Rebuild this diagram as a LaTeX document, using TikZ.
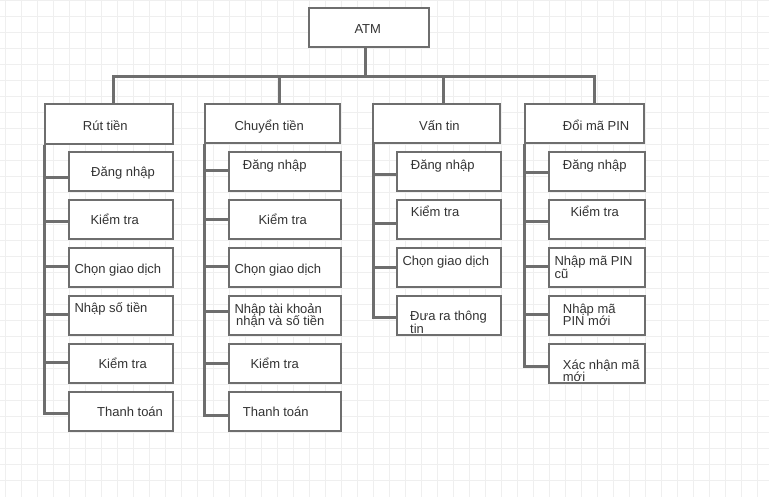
\documentclass[tikz,border=0pt]{standalone}
\usepackage{fontspec}
\setmainfont{Liberation Sans}
\definecolor{edge}{HTML}{6E6E6E}
\definecolor{ink}{HTML}{333333}
\definecolor{gridc}{HTML}{EFEFEF}
\begin{document}
\begin{tikzpicture}[x=1pt,y=-1pt,
  box/.style={draw=edge,line width=2pt,fill=white,rectangle,inner sep=0pt,minimum height=39pt},
  conn/.style={draw=edge,line width=3pt},
  lbl/.style={inner sep=0pt,anchor=base west,text=ink,font=\fontsize{13pt}{13.4pt}\selectfont},
  gridline/.style={draw=gridc,line width=1pt}]
\useasboundingbox[fill=white] (0,0) rectangle (769,503);
% grid
\foreach \k in {0,...,47} \draw[gridline] (5.33+16*\k,0) -- (5.33+16*\k,497);
\foreach \k in {0,...,30} \draw[gridline] (0,0.3+16*\k) -- (769,0.3+16*\k);

% top level
\node[box,minimum width=120pt] (atm) at (369,27.5) {};
\node[box,minimum width=128pt,minimum height=40pt] (rut) at (109,124) {};
\node[box,minimum width=135pt] (chuyen) at (272.5,123.5) {};
\node[box,minimum width=127.3pt] (van) at (436.3,123.5) {};
\node[box,minimum width=119.3pt] (doi) at (584.7,123.5) {};

% column 1
\foreach \n/\y in {1/171.5,2/219.5,3/267.5,4/315.5,5/363.5,6/411.8}
  \node[box,minimum width=104pt] (r\n) at (121,\y) {};
% column 2
\foreach \n/\y in {1/171.5,2/219.5,3/267.5,4/315.5,5/363.5,6/411.8}
  \node[box,minimum width=112pt] (c\n) at (285,\y) {};
% column 3
\foreach \n/\y in {1/171.5,2/219.5,3/267.8,4/315.5}
  \node[box,minimum width=104pt] (v\n) at (448.7,\y) {};
% column 4
\foreach \n/\y in {1/171.5,2/219.5,3/267.8,4/315.5,5/363.3}
  \node[box,minimum width=96pt] (d\n) at (597,\y) {};

% connectors from ATM
\coordinate (bus) at (365.7,77);
\draw[conn] ([xshift=-3.3pt]atm.south) -- ([xshift=-3.3pt]atm.south |- bus);
\draw[conn] ([xshift=4pt]rut.north) -- ([xshift=4pt]rut.north |- bus)
  -- ([xshift=9.6pt]doi.north |- bus) -- ([xshift=9.6pt]doi.north);
\draw[conn] ([xshift=6.8pt]chuyen.north) -- ([xshift=6.8pt]chuyen.north |- bus);
\draw[conn] ([xshift=7pt]van.north) -- ([xshift=7pt]van.north |- bus);

% spines
\coordinate (s1) at ([xshift=0.7pt]rut.south west);
\coordinate (s2) at ([xshift=0.7pt]chuyen.south west);
\coordinate (s3) at ([xshift=1.6pt]van.south west);
\coordinate (s4) at ([xshift=0.7pt]doi.south west);
\draw[conn] (s1) |- ([yshift=-1.2pt]r6.west);
\draw[conn] (s2) |- ([yshift=-3.2pt]c6.west);
\draw[conn] (s3) |- ([yshift=-2.2pt]v4.west);
\draw[conn] (s4) |- ([yshift=-2.7pt]d5.west);
\foreach \n/\d in {1/-5.8,2/-2.2,3/1.2,4/0.8,5/1.5}
  \draw[conn] ([yshift=\d pt]r\n.west) -- ([yshift=\d pt]r\n.west -| s1);
\foreach \n/\d in {1/1.2,2/0,3/1.2,4/3.8,5/0}
  \draw[conn] ([yshift=\d pt]c\n.west) -- ([yshift=\d pt]c\n.west -| s2);
\foreach \n/\d in {1/-2.5,2/-3.8,3/0}
  \draw[conn] ([yshift=\d pt]v\n.west) -- ([yshift=\d pt]v\n.west -| s3);
\foreach \n/\d in {1/-0.5,2/-1.5,3/1,4/1.5}
  \draw[conn] ([yshift=\d pt]d\n.west) -- ([yshift=\d pt]d\n.west -| s4);

% labels
\node[lbl] (atmt) at (354.3,33.7) {ATM};
\node[lbl] (rutt) at (82.7,130) {Rút tiền};
\node[lbl] (chuyent) at (234.3,130) {Chuyển tiền};
\node[lbl] (vant) at (419,130) {Vấn tin};
\node[lbl] (doit) at (562.7,130) {Đổi mã PIN};

\node[lbl] (r1t) at (91,176.7) {Đăng nhập};
\node[lbl] (r2t) at (90.3,224.7) {Kiểm tra};
\node[lbl] (r3t) at (74.3,273) {Chọn giao dịch};
\node[lbl] (r4t) at (74.3,312.3) {Nhập số tiền};
\node[lbl] (r5t) at (98.3,368.7) {Kiểm tra};
\node[lbl] (r6t) at (97,416.7) {Thanh toán};

\node[lbl] (c1t) at (242.7,169) {Đăng nhập};
\node[lbl] (c2t) at (258.3,224.7) {Kiểm tra};
\node[lbl] (c3t) at (234.3,273) {Chọn giao dịch};
\node[lbl] (c4t) at (234.3,313.3) {Nhập tài khoản};
\node[lbl] (c4u) at (236,325.7) {nhận và số tiền};
\node[lbl] (c5t) at (250.3,368.7) {Kiểm tra};
\node[lbl] (c6t) at (242.7,416.7) {Thanh toán};

\node[lbl] (v1t) at (410.7,169) {Đăng nhập};
\node[lbl] (v2t) at (410.7,216.7) {Kiểm tra};
\node[lbl] (v3t) at (402.3,265) {Chọn giao dịch};
\node[lbl] (v4t) at (410,320.7) {Đưa ra thông};
\node[lbl] (v4u) at (410,333.3) {tin};

\node[lbl] (d1t) at (562.7,169) {Đăng nhập};
\node[lbl] (d2t) at (570.3,216.7) {Kiểm tra};
\node[lbl] (d3t) at (554.3,265) {Nhập mã PIN};
\node[lbl] (d3u) at (554.3,278.3) {cũ};
\node[lbl] (d4t) at (562.7,313.3) {Nhập mã};
\node[lbl] (d4u) at (562.7,325.7) {PIN mới};
\node[lbl] (d5t) at (562.7,369) {Xác nhận mã};
\node[lbl] (d5u) at (562.7,381.7) {mới};
\end{tikzpicture}
\end{document}
